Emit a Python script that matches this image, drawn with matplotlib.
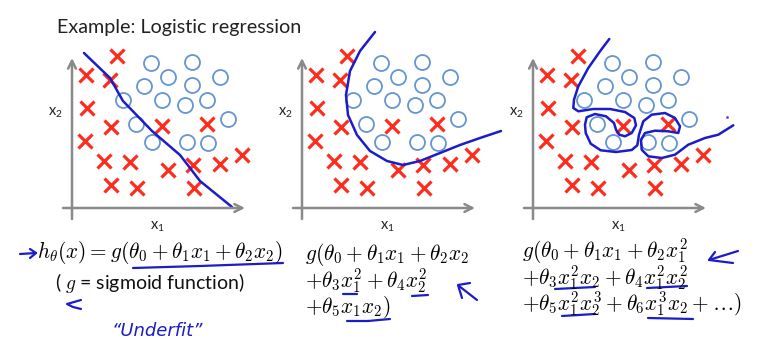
import matplotlib
matplotlib.use("Agg")
import matplotlib.pyplot as plt
import numpy as np

plt.rcParams['font.family'] = ['Lato', 'DejaVu Sans']
plt.rcParams['mathtext.fontset'] = 'cm'

# data points, relative to axis origin (1 unit = 1 px)
cross_x = [45, 14, 38, 15, 39, 13, 90, 135, 32, 58, 96, 121, 148, 170, 39, 65, 122]
cross_y = [152, 133, 128, 100, 81, 67, 82, 84, 47, 46, 38, 43, 44, 53, 23, 20, 20]
circ_x = [79, 120, 96, 148, 72, 120, 51, 90, 113, 135, 64, 156, 80, 115, 136]
circ_y = [145, 146, 131, 131, 122, 123, 108, 108, 103, 108, 84, 89, 66, 66, 65]

# decision boundaries
lin_x = [12, 38, 51, 80, 108, 128, 160]
lin_y = [155, 130, 107, 77, 53, 27, 1]
quad_x = [73, 58, 48, 44, 46, 55, 68, 85, 101, 118, 138, 158, 178, 199]
quad_y = [176, 157, 137, 113, 93, 73, 57, 47, 43, 47, 55, 63, 70, 77]
over_x = [76.3, 67, 55.3, 45.3, 41, 40.3, 45.3, 60.3, 77, 92, 101.3, 103, 98.7, 92,
          86.3, 83, 81, 73, 62, 53.7, 52, 52.7, 57.7, 67.7, 83, 98.7, 104.3, 106,
          110.3, 118.7, 132, 142, 147, 145.3, 135.3, 122, 112, 108, 108.7, 115.3,
          128.7, 142, 155.3, 172, 185.3, 200.3]
over_y = [169, 156.7, 140, 121.7, 108.3, 100, 96.7, 99, 99, 96, 90, 82.7, 75, 71.7,
          73.3, 78.3, 85, 91.7, 94, 90.7, 83.3, 75, 64.3, 57.7, 56, 58, 62.7, 73.3,
          86.7, 93.3, 95, 90, 81.7, 75, 76.7, 77.3, 75, 68.3, 58.3, 51.7, 50, 53.3,
          63.3, 70, 73.3, 82.7]

panel_origin = [72, 302, 533]   # px
boundaries = [(lin_x, lin_y), (quad_x, quad_y), (over_x, over_y)]

W, H = 780, 351
fig = plt.figure(figsize=(7.8, 3.51), dpi=100)
fig.patch.set_facecolor('white')

ov = fig.add_axes([0, 0, 1, 1])
ov.set_xlim(0, W)
ov.set_ylim(H, 0)
ov.axis('off')
ov.patch.set_alpha(0)

blue = '#1c1cc8'
gray = '#8a8a8a'
red = '#ff2b1c'
cblue = '#6496d2'

oy = 208
for i, ox in enumerate(panel_origin):
    ax = fig.add_axes([(ox - 20) / W, (H - (oy + 15)) / H, 230 / W, 200 / H])
    ax.set_xlim(-20, 210)
    ax.set_ylim(-15, 185)
    ax.axis('off')
    ax.patch.set_alpha(0)
    ax.annotate('', xy=(0, 150), xytext=(0, -11),
                arrowprops=dict(arrowstyle='->', color=gray, lw=1.8,
                                mutation_scale=14, shrinkA=0, shrinkB=0))
    ax.annotate('', xy=(173, 0), xytext=(-9, 0),
                arrowprops=dict(arrowstyle='->', color=gray, lw=1.8,
                                mutation_scale=14, shrinkA=0, shrinkB=0))
    ax.plot(cross_x, cross_y, 'x', color=red, ms=9.5, mew=2.3, clip_on=False)
    ax.plot(circ_x, circ_y, 'o', mfc='none', mec=cblue, ms=10.8, mew=1.3, clip_on=False)
    bx, by = boundaries[i]
    ax.plot(bx, by, '-', color=blue, lw=1.8, clip_on=False, solid_capstyle='round')
    ax.text(85, -19, r'$\mathregular{x_1}$', ha='center', va='center', fontsize=10.5, color='#222222')
    ax.text(-17, 95, r'$\mathregular{x_2}$', ha='center', va='center', fontsize=10.5, color='#222222')

ov.plot([727], [117], '.', color='#7a40c0', ms=2)

ov.text(57, 27, 'Example: Logistic regression', fontsize=14.2, color='#222222',
        ha='left', va='center')

ms = 15.3
ov.text(37, 253, r'$h_\theta(x) = g(\theta_0+\theta_1x_1+\theta_2x_2)$', fontsize=ms,
        ha='left', va='center')
ov.text(55, 283, r'( $g$ = sigmoid function)', fontsize=14, ha='left', va='center',
        color='#111111')

ov.text(305, 255, r'$g(\theta_0+\theta_1x_1+\theta_2x_2$', fontsize=ms, ha='left', va='center')
ov.text(305, 281, r'$+\theta_3x_1^2+\theta_4x_2^2$', fontsize=ms, ha='left', va='center')
ov.text(305, 307, r'$+\theta_5x_1x_2)$', fontsize=ms, ha='left', va='center')

ov.text(522, 251, r'$g(\theta_0+\theta_1x_1+\theta_2x_1^2$', fontsize=ms, ha='left', va='center')
ov.text(522, 278, r'$+\theta_3x_1^2x_2+\theta_4x_1^2x_2^2$', fontsize=ms, ha='left', va='center')
ov.text(522, 304, r'$+\theta_5x_1^2x_2^3+\theta_6x_1^3x_2+\ldots)$', fontsize=ms,
        ha='left', va='center')

# hand-drawn ink
ink = [
    [(20, 254), (36, 253)], [(30, 249), (36, 253), (30, 258)],
    [(133, 268), (200, 266), (283, 263)],
    [(81, 300), (67, 304), (73, 307), (81, 309)],
    [(343, 294), (357, 294)], [(412, 296), (428, 295)],
    [(347, 321), (368, 321), (390, 319)],
    [(477, 300), (459, 286)], [(462, 298), (458, 285), (470, 283)],
    [(555, 289), (595, 287)], [(647, 288), (687, 286)],
    [(562, 316), (595, 314)], [(648, 318), (693, 319)],
    [(738, 251), (709, 260)], [(715, 252), (709, 260), (733, 263)],
]
for stroke in ink:
    sx, sy = zip(*stroke)
    ov.plot(sx, sy, '-', color=blue, lw=1.6, solid_capstyle='round', solid_joinstyle='round')

ov.text(157, 331, '\u201cUnderfit\u201d', fontsize=13, color=blue, style='italic',
        ha='center', va='center', family=['DejaVu Sans'])

fig.savefig('out.png', dpi=100, facecolor='white')
